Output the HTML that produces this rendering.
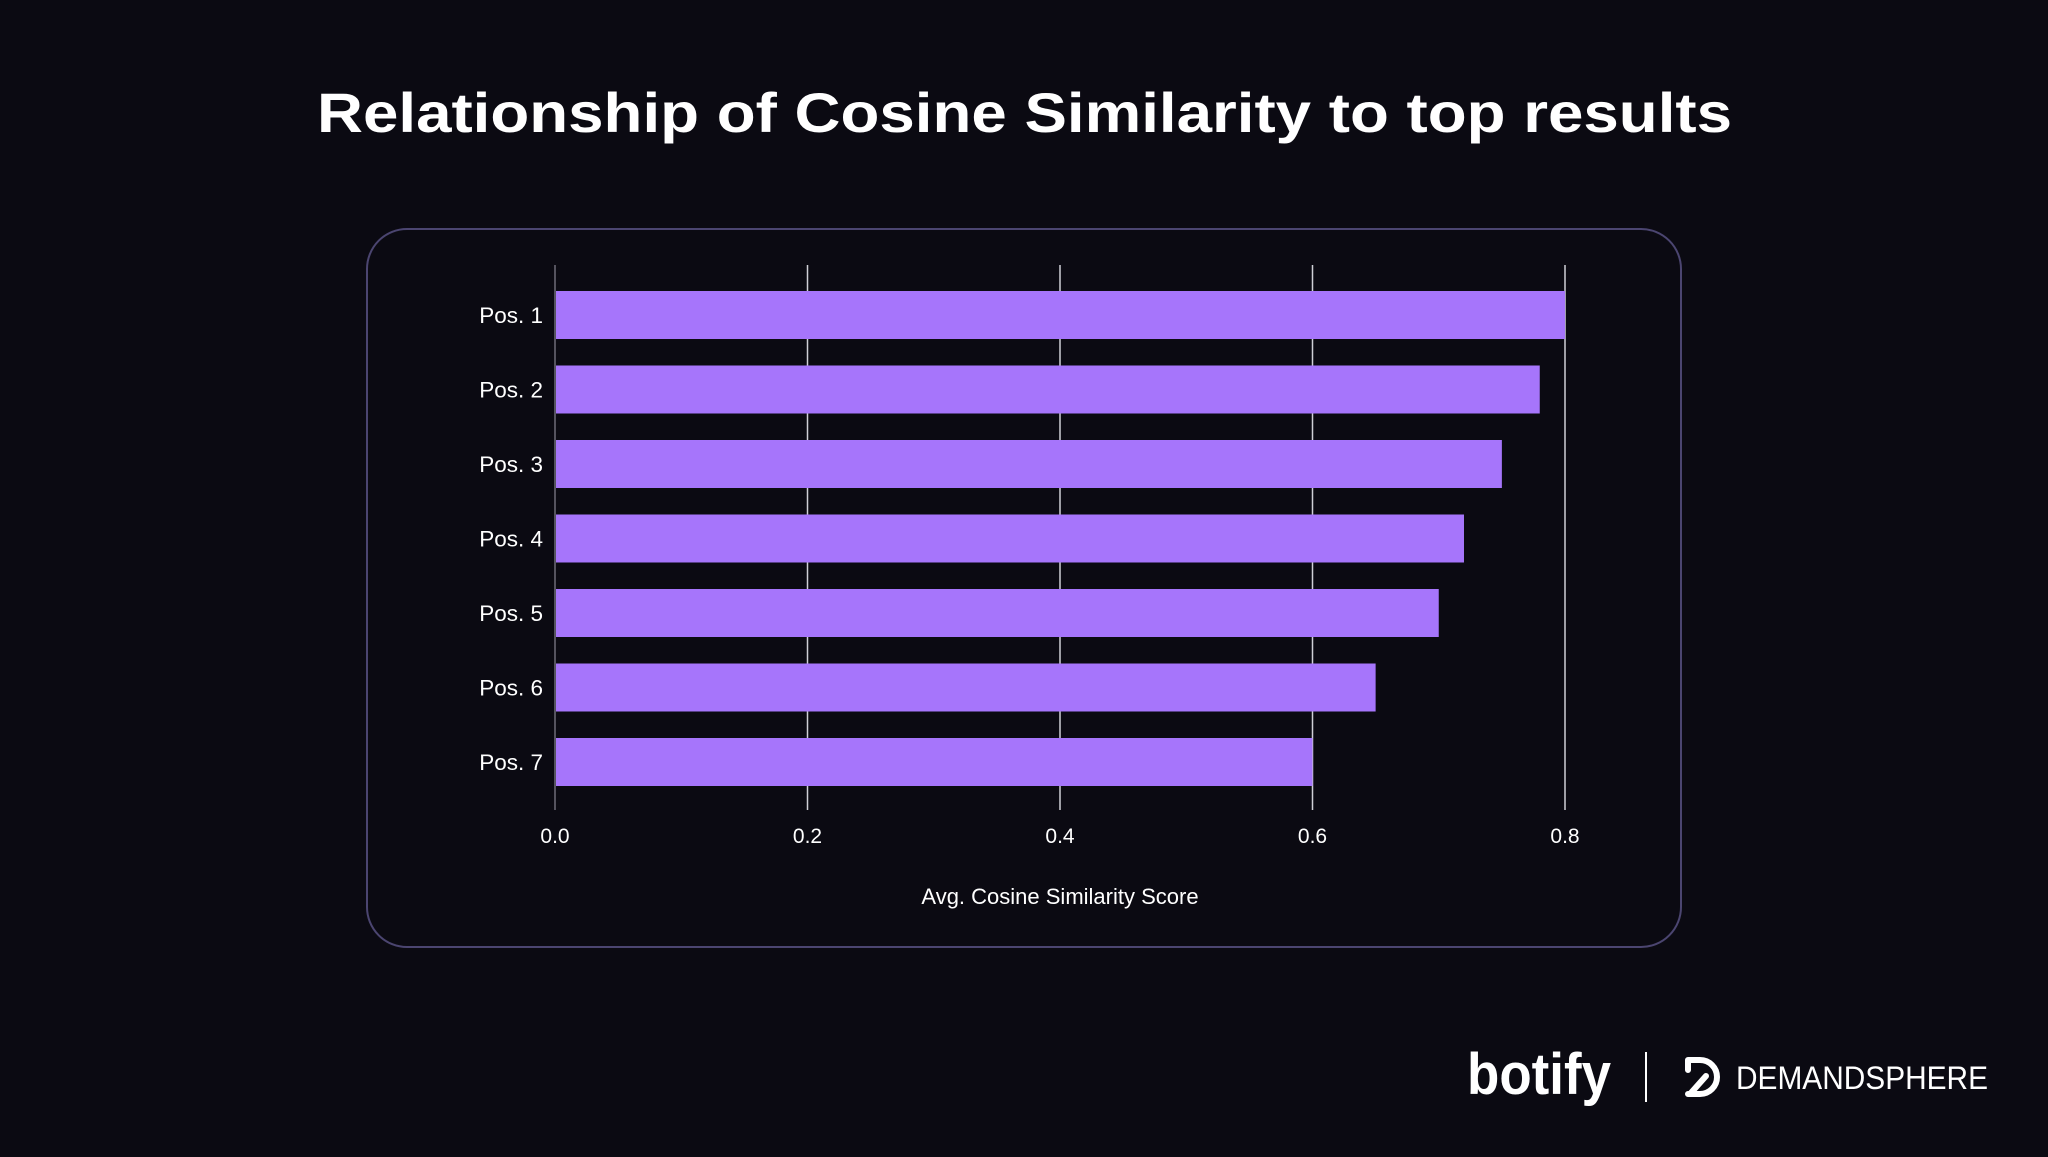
<!DOCTYPE html>
<html><head><meta charset="utf-8"><style>
html,body{margin:0;padding:0;background:#0b0a12;}
body{width:2048px;height:1152px;overflow:hidden;font-family:"Liberation Sans",sans-serif;}
</style></head><body>
<svg width="2048" height="1152" viewBox="0 0 2048 1152" xmlns="http://www.w3.org/2000/svg">
<rect width="2048" height="1152" fill="#0b0a12"/>
<text x="317" y="132" textLength="1415" lengthAdjust="spacingAndGlyphs" fill="#ffffff" font-family="Liberation Sans, sans-serif" font-weight="bold" font-size="56">Relationship of Cosine Similarity to top results</text>
<rect x="367" y="229" width="1314" height="718" rx="40" ry="40" fill="#0b0a12" stroke="#4b4570" stroke-width="2"/>
<g id="grid"></g>
<g id="bars"></g>
<g id="labels"></g>
<text x="1060" y="904" text-anchor="middle" fill="#ffffff" font-size="22">Avg. Cosine Similarity Score</text>
<g>
<text x="1467" y="1094" textLength="144" lengthAdjust="spacingAndGlyphs" fill="#ffffff" font-weight="bold" font-size="58">botify</text>
</g>
<rect x="1645" y="1052" width="2" height="50" fill="#ffffff"/>
<g>
<path d="M1688 1060 h12 a17 17 0 0 1 0 34 h-12 M1688 1060 l0 10 M1690 1094 l16 -18" fill="none" stroke="#ffffff" stroke-width="6" stroke-linecap="round"/>
<text x="1736" y="1089" textLength="252" lengthAdjust="spacingAndGlyphs" fill="#ffffff" font-size="32">DEMANDSPHERE</text>
</g>
</svg>
<script>
const categories = ["Pos. 1","Pos. 2","Pos. 3","Pos. 4","Pos. 5","Pos. 6","Pos. 7"];
const values = [0.80,0.78,0.75,0.72,0.70,0.65,0.60];
const ticks = [0.0,0.2,0.4,0.6,0.8];
const tickLabels = ["0.0","0.2","0.4","0.6","0.8"];
const NS="http://www.w3.org/2000/svg";
const x0=555,x1=1565,xmax=0.8;
const xs=v=>x0+(v/xmax)*(x1-x0);
const yTop=291,pitch=74.5,barH=48;
const ys=i=>yTop+i*pitch;
const grid=document.getElementById('grid'),bars=document.getElementById('bars'),labels=document.getElementById('labels');
ticks.forEach((t,i)=>{
  const l=document.createElementNS(NS,'line');
  l.setAttribute('x1',xs(t));l.setAttribute('x2',xs(t));l.setAttribute('y1',265);l.setAttribute('y2',810);
  l.setAttribute('stroke',i===0?'#55535e':'#cfcfd6');l.setAttribute('stroke-width',i===0?2:1.5);
  
  
  grid.appendChild(l);
  const tx=document.createElementNS(NS,'text');
  tx.setAttribute('x',xs(t));tx.setAttribute('y',843);tx.setAttribute('text-anchor','middle');
  tx.setAttribute('fill','#ffffff');tx.setAttribute('font-size','21');
  tx.textContent=tickLabels[i];
  
  
  labels.appendChild(tx);
});
categories.forEach((c,i)=>{
  const r=document.createElementNS(NS,'rect');
  r.setAttribute('x',x0+1);r.setAttribute('y',ys(i));r.setAttribute('width',xs(values[i])-x0-1);r.setAttribute('height',barH);
  r.setAttribute('fill','#a675fb');
  
  
  bars.appendChild(r);
  const tx=document.createElementNS(NS,'text');
  tx.setAttribute('x',543);tx.setAttribute('y',ys(i)+barH/2+8);tx.setAttribute('text-anchor','end');
  tx.setAttribute('fill','#ffffff');tx.setAttribute('font-size','22.5');
  tx.textContent=c;
  
  
  labels.appendChild(tx);
});
</script>
</body></html>
